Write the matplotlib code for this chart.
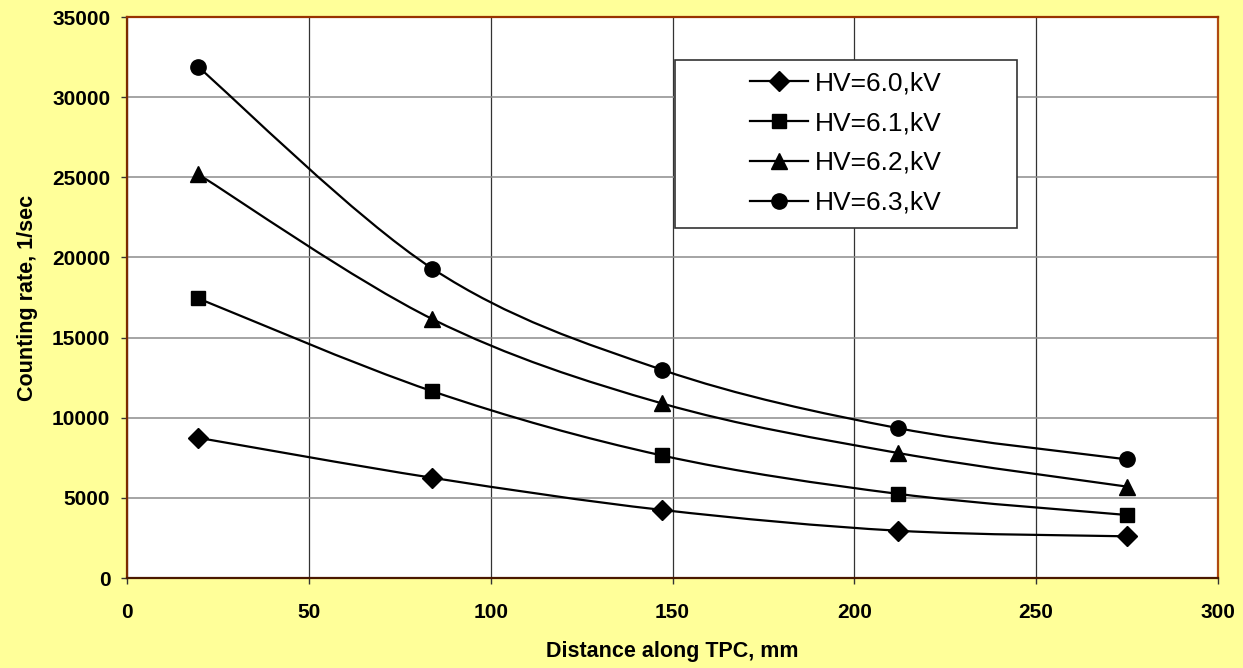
import numpy as np
import matplotlib.pyplot as plt
from matplotlib.path import Path
from matplotlib.patches import PathPatch, Rectangle
from matplotlib.lines import Line2D

# data
distance = [19.5, 84, 147, 212, 275]
rate_60 = [8750, 6250, 4250, 2950, 2600]
rate_61 = [17450, 11650, 7650, 5250, 3930]
rate_62 = [25200, 16150, 10900, 7800, 5700]
rate_63 = [31900, 19300, 13000, 9350, 7400]
series_labels = ['HV=6.0,kV', 'HV=6.1,kV', 'HV=6.2,kV', 'HV=6.3,kV']

plt.rcParams['font.family'] = ['Liberation Sans', 'DejaVu Sans']


def smooth_path(x, y):
    #excel-like smoothed line: catmull-rom turned into cubic bezier pieces
    pts = np.column_stack([x, y]).astype(float)
    verts = [pts[0]]
    codes = [Path.MOVETO]
    n = len(pts)
    for i in range(n - 1):
        p0 = pts[i - 1] if i > 0 else pts[i]
        p1 = pts[i]
        p2 = pts[i + 1]
        p3 = pts[i + 2] if i + 2 < n else pts[i + 1]
        c1 = p1 + (p2 - p0) / 6.0
        c2 = p2 - (p3 - p1) / 6.0
        verts += [c1, c2, p2]
        codes += [Path.CURVE4] * 3
    return Path(verts, codes)


fig = plt.figure(figsize=(12.43, 6.68), dpi=100, facecolor='#FFFF99')
ax = fig.add_axes([127/1243, 90/668, (1218-127)/1243, (578-17)/668])
ax.set_facecolor('white')

series = [(rate_60, 'D', 10), (rate_61, 's', 10.5), (rate_62, '^', 12), (rate_63, 'o', 11)]
handles = []
for (vals, mk, ms), lab in zip(series, series_labels):
    patch = PathPatch(smooth_path(distance, vals), fill=False, edgecolor='black', lw=1.6, zorder=3)
    ax.add_patch(patch)
    ax.plot(distance, vals, linestyle='none', marker=mk, ms=ms, color='black', zorder=4)
    handles.append(Line2D([], [], color='black', lw=1.6, marker=mk, ms=ms))

ax.set_xlim(0, 300)
ax.set_ylim(0, 35000)
ax.set_xticks(np.arange(0, 301, 50))
ax.set_yticks(np.arange(0, 35001, 5000))

ax.xaxis.grid(True, color='#333333', lw=0.9)
ax.yaxis.grid(True, color='#8c8c8c', lw=1.1)
ax.set_axisbelow(True)

for lab in ax.get_xticklabels() + ax.get_yticklabels():
    lab.set_fontweight('bold')
    lab.set_fontsize(15)
ax.tick_params(axis='both', direction='out', length=4, width=1, color='#333333')
ax.tick_params(axis='y', pad=8)
ax.tick_params(axis='x', pad=14)

ax.spines['top'].set_color('#993300')
ax.spines['right'].set_color('#b04a10')
ax.spines['bottom'].set_color('#4a1800')
ax.spines['left'].set_color('#7a2a00')
for s in ax.spines.values():
    s.set_linewidth(1.6)

ax.set_xlabel('Distance along TPC, mm', fontsize=15.5, fontweight='bold', labelpad=14)
ax.set_ylabel('Counting rate, 1/sec', fontsize=15.5, fontweight='bold', labelpad=10)

# legend box
box = Rectangle((675/1243, 1 - 228/668), (1017-675)/1243, (228-60)/668,
                transform=fig.transFigure, facecolor='white', edgecolor='#333333',
                lw=1.2, zorder=5)
fig.patches.append(box)
leg = fig.legend(handles, series_labels, loc='center',
                 bbox_to_anchor=((675+1017)/2/1243, 1 - 143/668),
                 frameon=False, fontsize=19, handlelength=2.2, handletextpad=0.28,
                 labelspacing=0.6)
leg.set_zorder(6)

fig.savefig('out.png', dpi=100, facecolor=fig.get_facecolor())
